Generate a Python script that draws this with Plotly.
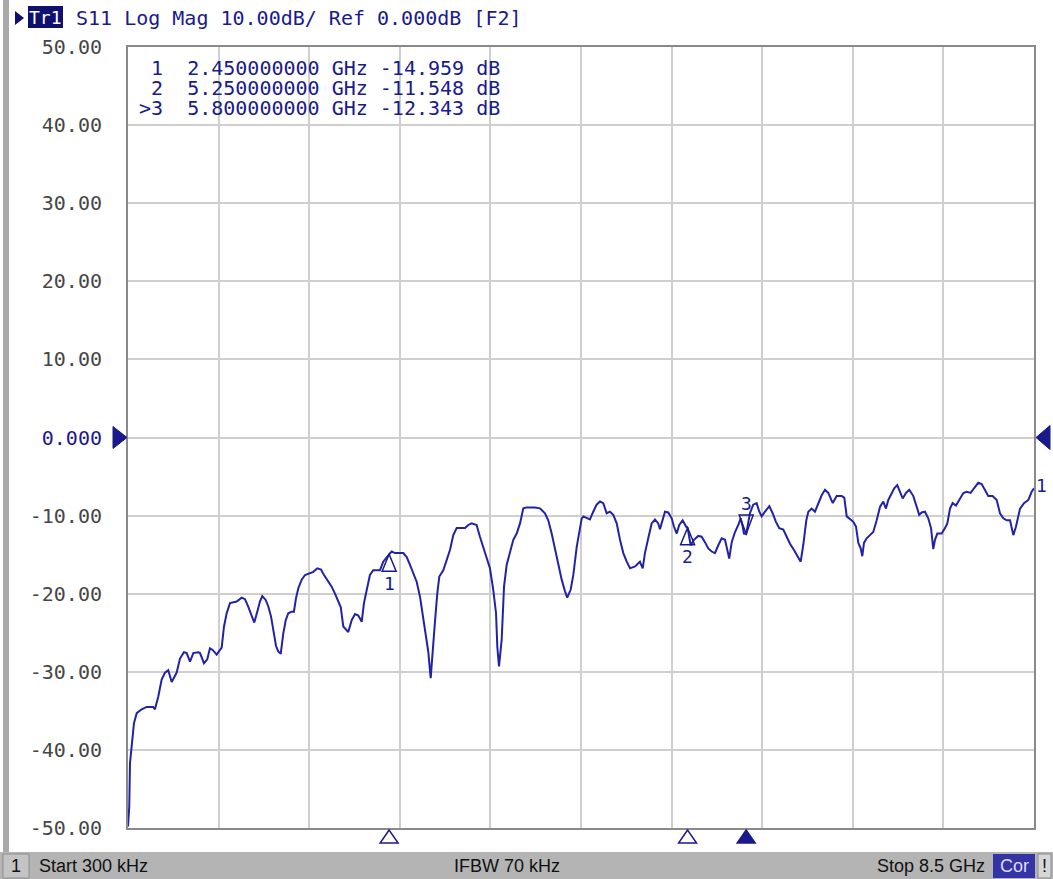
import plotly.graph_objects as go
import numpy as np

# ---------------- data ----------------
freq_ghz = [0.0003, 0.012, 0.019, 0.044, 0.056, 0.082, 0.129, 0.175, 0.237, 0.253,
            0.284, 0.316, 0.347, 0.378, 0.410, 0.457, 0.488, 0.525, 0.551, 0.582,
            0.613, 0.660, 0.676, 0.713, 0.744, 0.769, 0.795, 0.832, 0.879, 0.901,
            0.926, 0.957, 1.020, 1.067, 1.098, 1.129, 1.161, 1.185, 1.213, 1.238,
            1.260, 1.292, 1.316, 1.342, 1.363, 1.389, 1.410, 1.433, 1.457, 1.480,
            1.504, 1.536, 1.557, 1.576, 1.598, 1.630, 1.661, 1.708, 1.739, 1.776,
            1.811, 1.839, 1.879, 1.911, 1.942, 1.973, 1.996, 2.020, 2.067, 2.099,
            2.130, 2.161, 2.193, 2.214, 2.239, 2.270, 2.301, 2.333, 2.364, 2.395,
            2.427, 2.450, 2.474, 2.505, 2.583, 2.615, 2.646, 2.677, 2.709, 2.740,
            2.770, 2.796, 2.817, 2.840, 2.859, 2.880, 2.902, 2.921, 2.958, 2.990,
            3.021, 3.052, 3.084, 3.162, 3.193, 3.224, 3.271, 3.302, 3.333, 3.365,
            3.396, 3.427, 3.453, 3.465, 3.481, 3.506, 3.528, 3.553, 3.584, 3.615,
            3.647, 3.678, 3.709, 3.740, 3.818, 3.865, 3.912, 3.943, 3.975, 4.006,
            4.037, 4.069, 4.100, 4.121, 4.153, 4.178, 4.210, 4.234, 4.257, 4.272,
            4.303, 4.334, 4.365, 4.397, 4.428, 4.459, 4.491, 4.522, 4.553, 4.585,
            4.616, 4.647, 4.679, 4.710, 4.757, 4.788, 4.803, 4.829, 4.850, 4.881,
            4.913, 4.944, 4.975, 4.991, 5.016, 5.038, 5.069, 5.101, 5.122, 5.148,
            5.172, 5.204, 5.235, 5.250, 5.279, 5.310, 5.350, 5.382, 5.413, 5.444,
            5.476, 5.507, 5.538, 5.570, 5.601, 5.623, 5.641, 5.664, 5.695, 5.726,
            5.748, 5.767, 5.779, 5.800, 5.820, 5.835, 5.866, 5.898, 5.923, 5.945,
            5.976, 6.017, 6.048, 6.079, 6.110, 6.148, 6.180, 6.211, 6.248, 6.289,
            6.311, 6.336, 6.364, 6.383, 6.414, 6.445, 6.476, 6.508, 6.539, 6.570,
            6.612, 6.649, 6.696, 6.720, 6.743, 6.774, 6.805, 6.830, 6.852, 6.874,
            6.889, 6.905, 6.930, 6.961, 6.992, 7.024, 7.055, 7.086, 7.111, 7.133,
            7.165, 7.189, 7.217, 7.243, 7.268, 7.299, 7.330, 7.368, 7.399, 7.423,
            7.446, 7.477, 7.508, 7.534, 7.555, 7.571, 7.593, 7.634, 7.665, 7.687,
            7.712, 7.737, 7.768, 7.799, 7.837, 7.868, 7.906, 7.937, 7.977, 8.009,
            8.040, 8.071, 8.112, 8.150, 8.181, 8.212, 8.244, 8.275, 8.306, 8.331,
            8.369, 8.406, 8.447, 8.478, 8.500]

s11_db = [-49.8, -47.3, -41.7, -38.3, -36.6, -35.3, -34.8, -34.5, -34.5, -34.8,
          -33.2, -31.0, -30.1, -29.8, -31.3, -30.1, -28.3, -27.5, -27.6, -28.7,
          -27.6, -27.5, -27.6, -28.9, -28.4, -27.0, -27.2, -27.8, -26.9, -24.2,
          -22.5, -21.2, -21.0, -20.5, -20.7, -21.7, -22.8, -23.7, -22.3, -21.0,
          -20.3, -20.8, -21.6, -22.9, -24.6, -26.7, -27.4, -27.7, -25.1, -23.4,
          -22.5, -22.3, -22.3, -20.6, -19.3, -18.2, -17.6, -17.4, -17.2, -16.75,
          -16.9, -17.6, -18.5, -19.1, -20.0, -21.0, -21.7, -24.2, -24.9, -23.4,
          -22.6, -22.8, -23.6, -21.2, -19.5, -17.6, -17.0, -17.0, -17.0, -15.9,
          -15.3, -14.96, -14.6, -14.8, -14.8, -15.3, -16.3, -17.4, -18.5, -20.4,
          -22.9, -25.1, -27.4, -30.8, -27.0, -23.6, -19.95, -17.8, -17.0, -15.7,
          -14.4, -12.5, -11.6, -11.6, -11.2, -11.0, -11.2, -12.7, -14.0, -15.3,
          -16.75, -19.5, -22.5, -26.8, -29.3, -25.9, -19.1, -16.3, -14.6, -13.1,
          -12.3, -11.0, -9.07, -8.95, -8.95, -9.07, -9.7, -10.6, -12.3, -14.2,
          -16.3, -18.2, -19.7, -20.5, -19.5, -17.6, -14.0, -12.0, -10.35, -10.1,
          -10.35, -10.5, -9.5, -8.6, -8.2, -8.4, -9.7, -9.5, -9.9, -11.0,
          -13.1, -14.8, -15.9, -16.75, -16.5, -16.1, -15.9, -16.75, -14.8, -12.9,
          -11.0, -10.5, -11.0, -11.75, -10.6, -9.5, -9.6, -10.35, -11.4, -12.3,
          -11.2, -10.6, -11.4, -11.55, -13.8, -13.1, -12.6, -12.7, -13.4, -14.2,
          -14.6, -14.8, -13.8, -12.9, -13.1, -14.6, -15.5, -13.4, -12.1, -11.2,
          -10.35, -11.4, -12.3, -12.34, -10.6, -9.7, -8.6, -8.4, -9.5, -10.1,
          -9.5, -8.8, -9.7, -10.8, -11.6, -11.8, -12.7, -13.6, -14.4, -15.35,
          -15.9, -13.7, -10.6, -9.5, -9.1, -9.5, -8.4, -7.4, -6.7, -7.1,
          -8.4, -7.5, -7.5, -7.7, -10.1, -10.5, -10.8, -11.4, -13.5, -14.2,
          -15.2, -13.5, -12.9, -12.5, -12.1, -10.6, -8.9, -8.2, -9.1, -8.0,
          -7.1, -6.5, -6.1, -6.95, -7.8, -7.1, -6.7, -7.5, -8.9, -9.9,
          -9.6, -9.5, -10.35, -11.6, -14.3, -13.1, -12.3, -12.3, -11.6, -11.0,
          -9.1, -8.4, -8.7, -8.0, -7.1, -6.95, -7.1, -6.5, -5.8, -5.95,
          -6.7, -7.5, -7.5, -8.0, -9.7, -10.35, -10.6, -10.6, -12.5, -11.4,
          -9.1, -8.4, -8.0, -6.95, -6.5]

marker_ids = ["1", "2", "3"]
marker_freq_ghz = [2.45, 5.25, 5.80]
marker_freq_text = ["2.450000000", "5.250000000", "5.800000000"]
marker_db = [-14.959, -11.548, -12.343]
active_marker = "3"

y_tick_vals = [50, 40, 30, 20, 10, 0, -10, -20, -30, -40, -50]
y_tick_text = ["50.00", "40.00", "30.00", "20.00", "10.00", "0.000",
               "-10.00", "-20.00", "-30.00", "-40.00", "-50.00"]
ref_level_db = 0.0

start_ghz = 0.0003
stop_ghz = 8.5
x_divisions = 10

header_text = "S11 Log Mag 10.00dB/ Ref 0.000dB [F2]"
trace_name = "Tr1"
status_left = "Start 300 kHz"
status_mid = "IFBW 70 kHz"
status_right = "Stop 8.5 GHz"

# ---------------- styles / layout geometry ----------------
W, H = 1053, 879
L, R, T, B = 128, 19, 47, 51
PW, PH = W - L - R, H - T - B

NAVY = "#1a1a8c"
TRACE = "#2222a6"
GRID = "#cfcfcf"
MONO = "DejaVu Sans Mono"
SANS = "Liberation Sans"


def px_x(p):
    return (p - L) / PW


def px_y(p):
    return (T + PH - p) / PH


fig = go.Figure()
fig.add_trace(go.Scatter(x=freq_ghz, y=s11_db, mode="lines",
                         line=dict(color=TRACE, width=2), hoverinfo="skip",
                         showlegend=False))

shapes = []
annotations = []

# markers on trace
for mid, f, d in zip(marker_ids, marker_freq_ghz, marker_db):
    active = (mid == active_marker)
    if active:
        path = "M0,0 L-7,19 L7,19 Z"
        yshift = 30
    else:
        path = "M0,0 L-7,-17 L7,-17 Z"
        yshift = -29
    shapes.append(dict(type="path", xref="x", yref="y", xsizemode="pixel",
                       ysizemode="pixel", xanchor=f, yanchor=d, path=path,
                       line=dict(color=NAVY, width=1.5),
                       fillcolor="rgba(0,0,0,0)", layer="above"))
    annotations.append(dict(x=f, y=d, xref="x", yref="y", text=mid,
                            showarrow=False, yshift=yshift,
                            font=dict(family=MONO, size=18, color=NAVY)))
    # bottom position triangles
    shapes.append(dict(type="path", xref="x", yref="paper", xsizemode="pixel",
                       ysizemode="pixel", xanchor=f, yanchor=0,
                       path="M0,-2 L-9,-15 L9,-15 Z",
                       line=dict(color=NAVY, width=1.5),
                       fillcolor=NAVY if active else "rgba(0,0,0,0)"))

# marker table
for i, (mid, ft, d) in enumerate(zip(marker_ids, marker_freq_text, marker_db)):
    prefix = (">" if mid == active_marker else " ") + mid
    line = f"{prefix}  {ft} GHz {d:.3f} dB"
    annotations.append(dict(x=px_x(137), y=px_y(67 + 20 * i), xref="paper",
                            yref="paper", xanchor="left", yanchor="middle",
                            height=19, valign="middle",
                            text=line.replace(" ", "&nbsp;"), showarrow=False,
                            font=dict(family=MONO, size=20, color=NAVY)))

# reference level triangles
shapes.append(dict(type="path", xref="paper", yref="y", xsizemode="pixel",
                   ysizemode="pixel", xanchor=0, yanchor=ref_level_db,
                   path="M-15,11 L-1,0 L-15,-11 Z", line=dict(color=NAVY, width=1),
                   fillcolor=NAVY))
shapes.append(dict(type="path", xref="paper", yref="y", xsizemode="pixel",
                   ysizemode="pixel", xanchor=1, yanchor=ref_level_db,
                   path="M2,0 L16,12 L16,-12 Z", line=dict(color=NAVY, width=1),
                   fillcolor=NAVY))

# trace end label
annotations.append(dict(x=1, y=s11_db[-1], xref="paper", yref="y", text="1",
                        xanchor="left", showarrow=False, xshift=0, yshift=3,
                        font=dict(family=MONO, size=18, color=NAVY)))

# left border bar
shapes.append(dict(type="rect", xref="paper", yref="paper", x0=px_x(3), x1=px_x(9),
                   y0=px_y(852), y1=px_y(0), line=dict(width=0), fillcolor="#a9a9a9",
                   layer="below"))

# header
shapes.append(dict(type="path", xref="paper", yref="paper", xsizemode="pixel",
                   ysizemode="pixel", xanchor=px_x(15), yanchor=px_y(18),
                   path="M0,7 L9,0 L0,-7 Z", line=dict(width=0), fillcolor="#101070"))
shapes.append(dict(type="rect", xref="paper", yref="paper", x0=px_x(28), x1=px_x(63),
                   y0=px_y(28), y1=px_y(6), line=dict(width=0), fillcolor="#101070"))
annotations.append(dict(x=px_x(45.5), y=px_y(17), xref="paper", yref="paper",
                        text=trace_name, showarrow=False, xanchor="center",
                        yanchor="middle",
                        font=dict(family=MONO, size=18, color="#ffffff")))
annotations.append(dict(x=px_x(74), y=px_y(18), xref="paper", yref="paper",
                        text=header_text.replace(" ", "&nbsp;"), showarrow=False,
                        xanchor="left", yanchor="middle",
                        font=dict(family=MONO, size=20, color=NAVY)))

# status bar
shapes.append(dict(type="rect", xref="paper", yref="paper", x0=px_x(0), x1=px_x(W),
                   y0=px_y(H), y1=px_y(852), line=dict(width=0), fillcolor="#b4b4b4",
                   layer="below"))
shapes.append(dict(type="rect", xref="paper", yref="paper", x0=px_x(3), x1=px_x(29),
                   y0=px_y(878), y1=px_y(854), line=dict(color="#8c8c8c", width=1),
                   fillcolor="#c4c4c4", layer="below"))
annotations.append(dict(x=px_x(16), y=px_y(866), xref="paper", yref="paper",
                        text="1", showarrow=False, xanchor="center", yanchor="middle",
                        font=dict(family=SANS, size=18, color="#111111")))
annotations.append(dict(x=px_x(37), y=px_y(866), xref="paper", yref="paper",
                        text=status_left, showarrow=False, xanchor="left",
                        yanchor="middle", font=dict(family=SANS, size=18, color="#111111")))
annotations.append(dict(x=px_x(507), y=px_y(866), xref="paper", yref="paper",
                        text=status_mid, showarrow=False, xanchor="center",
                        yanchor="middle", font=dict(family=SANS, size=18, color="#111111")))
annotations.append(dict(x=px_x(987), y=px_y(866), xref="paper", yref="paper",
                        text=status_right, showarrow=False, xanchor="right",
                        yanchor="middle", font=dict(family=SANS, size=18, color="#111111")))
shapes.append(dict(type="rect", xref="paper", yref="paper", x0=px_x(993), x1=px_x(1035),
                   y0=px_y(878), y1=px_y(854), line=dict(width=0), fillcolor="#3434a4"))
annotations.append(dict(x=px_x(1014), y=px_y(866), xref="paper", yref="paper",
                        text="Cor", showarrow=False, xanchor="center", yanchor="middle",
                        font=dict(family=SANS, size=18, color="#dcdcff")))
shapes.append(dict(type="rect", xref="paper", yref="paper", x0=px_x(1038), x1=px_x(1051),
                   y0=px_y(878), y1=px_y(854), line=dict(color="#8c8c8c", width=1),
                   fillcolor="#d6d6d6"))
annotations.append(dict(x=px_x(1044.5), y=px_y(866), xref="paper", yref="paper",
                        text="!", showarrow=False, xanchor="center", yanchor="middle",
                        font=dict(family=SANS, size=18, color="#111111")))

y_tick_labels = [f"<span style='color:{NAVY}'>{t}</span>" if v == ref_level_db else t
                 for v, t in zip(y_tick_vals, y_tick_text)]

fig.update_layout(
    width=W, height=H, autosize=False,
    margin=dict(l=L, r=R, t=T, b=B, pad=0),
    paper_bgcolor="#ffffff", plot_bgcolor="#ffffff",
    showlegend=False,
    shapes=shapes, annotations=annotations,
    xaxis=dict(range=[start_ghz, stop_ghz],
               tickvals=list(np.linspace(start_ghz, stop_ghz, x_divisions + 1)),
               showticklabels=False, ticks="", showgrid=True, gridcolor=GRID,
               gridwidth=2, zeroline=False, showline=True, mirror=True,
               linecolor="#8a8a8a", linewidth=2, fixedrange=True),
    yaxis=dict(range=[-50, 50], tickvals=y_tick_vals, ticktext=y_tick_labels,
               ticks="", showgrid=True, gridcolor=GRID, gridwidth=2,
               zeroline=False, showline=True, mirror=True, linecolor="#8a8a8a",
               linewidth=2, ticklabelstandoff=20,
               tickfont=dict(family=MONO, size=20, color="#464646"), fixedrange=True),
)

fig.write_html("out.html", config={"displayModeBar": False},
               post_script="document.body.style.margin='0';"
                           "document.body.style.overflow='hidden';")
